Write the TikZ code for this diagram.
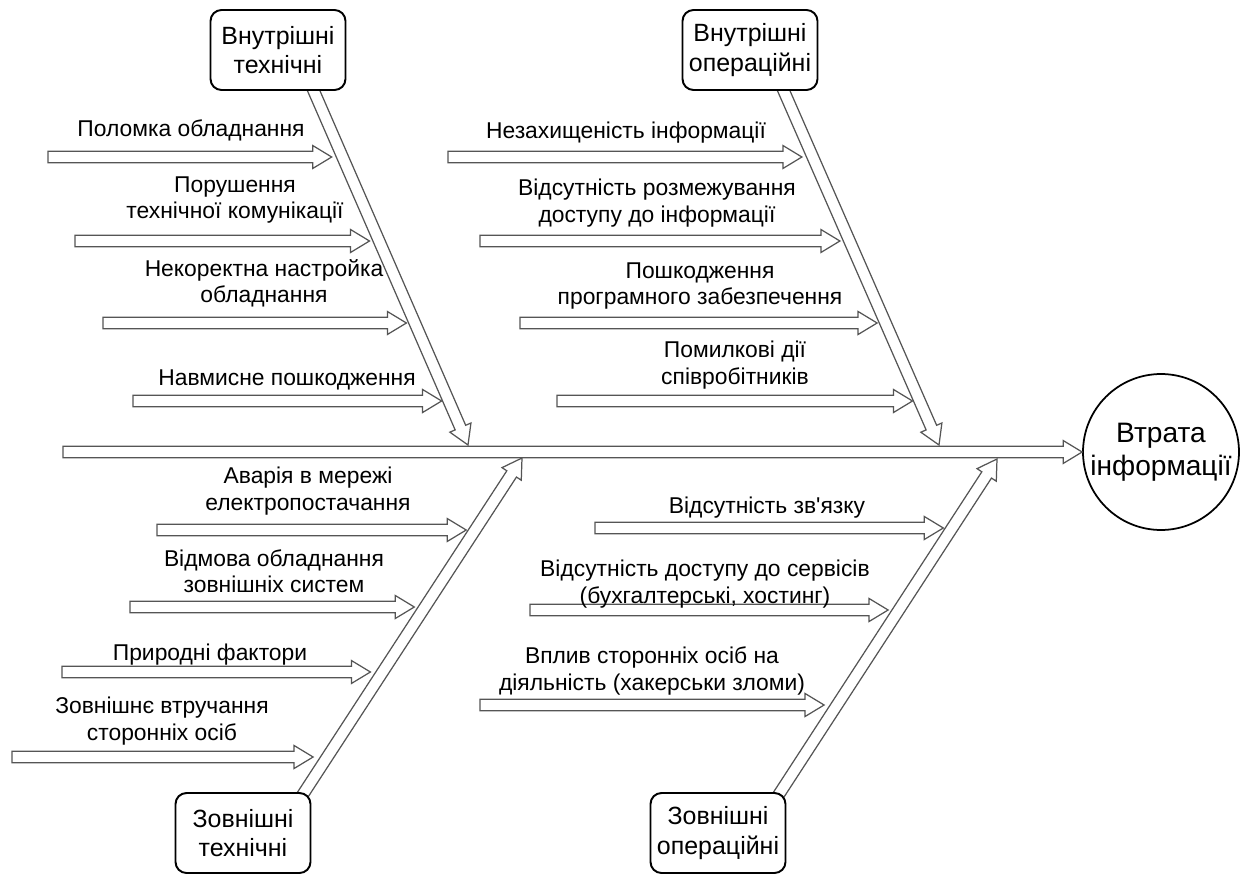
\documentclass[tikz,border=0pt]{standalone}
\usepackage{fontspec}
\setmainfont{Liberation Sans}
\newfontfamily\aposfont{Liberation Sans}[Ligatures=TeXOff]
\usetikzlibrary{calc,positioning}
\definecolor{BoneGray}{RGB}{85,85,85}
% hollow block arrow from #1 to #2
\newcommand{\fisharrow}[2]{%
  \coordinate (hb) at ($(#2)!0.38cm!(#1)$);
  \draw[BoneGray,line width=0.7pt,fill=white,line join=miter]
    ($(#1)!0.115cm!90:(#2)$) -- ($(hb)!0.115cm!90:(#2)$) -- ($(hb)!0.23cm!90:(#2)$)
    -- (#2) -- ($(hb)!0.23cm!-90:(#2)$) -- ($(hb)!0.115cm!-90:(#2)$)
    -- ($(#1)!0.115cm!-90:(#2)$) -- cycle;}
\tikzset{
  groupbox/.style={draw,line width=1.1pt,rounded corners=0.22cm,fill=white,
    minimum width=2.7cm,minimum height=1.6cm,align=center,
    font=\fontsize{14.2}{16.8}\selectfont},
  cause/.style={align=center,font=\fontsize{13}{15}\selectfont,inner sep=0pt}
}
\begin{document}
\begin{tikzpicture}[x=0.02cm,y=-0.02cm]
  \useasboundingbox (0,0) rectangle (1245,875);
  % effect
  \node[draw,circle,line width=1pt,minimum size=3.12cm,inner sep=0pt,align=center,
    font=\fontsize{16}{18.5}\selectfont] (loss) at (1161,452) {Втрата\\інформації};
  \coordinate (spine) at (63,452);
  \fisharrow{spine}{loss.west}
  % bones
  \coordinate (itb) at (309,80);   \coordinate (itt) at (468,445);
  \coordinate (iob) at (779,80);   \coordinate (iot) at (939,445);
  \coordinate (etb) at (296,805);  \coordinate (ett) at (522,458);
  \coordinate (eob) at (772,805);  \coordinate (eot) at (997,459);
  \fisharrow{itb}{itt}
  \fisharrow{iob}{iot}
  \fisharrow{etb}{ett}
  \fisharrow{eob}{eot}
  \node[groupbox] (intech) at (278,50) {Внутрішні\\технічні};
  \node[groupbox] (inoper) at (750,50) {Внутрішні\\операційні};
  \node[groupbox] (extech) at (243,833) {Зовнішні\\технічні};
  \node[groupbox] (exoper) at (718,833) {Зовнішні\\операційні};
  % causes
  \foreach \sx/\tx/\y/\n in {48/331.7/157/a1,75/369.5/241/a2,103/406.4/323/a3,133/441.6/401/a4,
      448/801.9/157/b1,480/839.9/241/b2,520/877.1/323/b3,557/912.5/401/b4,
      157/466.2/530/c1,130/414.3/607/c2,62/370.4/672/c3,12/313.1/757/c4,
      595/943.3/528/d1,530/888.1/610/d2,480/824.1/705/d3}{
    \coordinate (s\n) at (\sx,\y);
    \coordinate (t\n) at (\tx,\y);
    \fisharrow{s\n}{t\n}
  }
  \node[cause] (la1) at (191,130) {Поломка обладнання};
  \node[cause] (la2) at (235,200) {Порушення\\технічної комунікації};
  \node[cause] (la3) at (264,283) {Некоректна настройка\\обладнання};
  \node[cause] (la4) at (287,380) {Навмисне пошкодження};
  \node[cause] (lb1) at (626,133) {Незахищеність інформації};
  \node[cause] (lb2) at (657,203) {Відсутність розмежування\\доступу до інформації};
  \node[cause] (lb3) at (700,286) {Пошкодження\\програмного забезпечення};
  \node[cause] (lb4) at (735,365) {Помилкові дії\\співробітників};
  \node[cause] (lc1) at (308,491) {Аварія в мережі\\електропостачання};
  \node[cause] (lc2) at (274,571) {Відмова обладнання\\зовнішніх систем};
  \node[cause] (lc3) at (210,655) {Природні фактори};
  \node[cause] (lc4) at (162,721) {Зовнішнє втручання\\сторонніх осіб};
  \node[cause] (ld1) at (767,508) {Відсутність зв{\aposfont'}язку};
  \node[cause] (ld2) at (705,584) {Відсутність доступу до сервісів\\(бухгалтерські, хостинг)};
  \node[cause] (ld3) at (652,671) {Вплив сторонніх осіб на\\діяльність (хакерськи зломи)};
\end{tikzpicture}
\end{document}
